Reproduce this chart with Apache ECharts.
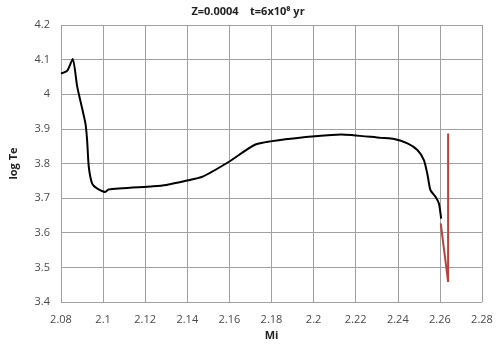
<!DOCTYPE html>
<html>
<head>
<meta charset="utf-8">
<script src="https://cdn.jsdelivr.net/npm/echarts@6/dist/echarts.min.js"></script>
<style>
  html, body { margin: 0; padding: 0; background: #fff; }
  #chart { width: 500px; height: 348px; }
</style>
</head>
<body>
<div id="chart"></div>
<script>
// black track: [Mi, log Te]
const blackMi = [2.0800, 2.0830, 2.0856, 2.0877, 2.0916, 2.0924, 2.0932, 2.0948, 2.0971, 2.1010, 2.1026,
  2.1238, 2.1300, 2.1394, 2.1473, 2.1598, 2.1724, 2.1865, 2.2007, 2.2132, 2.2320, 2.2383, 2.2446,
  2.2493, 2.2524, 2.2540, 2.2555, 2.2579, 2.2595, 2.2606];
const blackLogTe = [4.060, 4.068, 4.102, 4.022, 3.916, 3.868, 3.790, 3.742, 3.728, 3.718, 3.725,
  3.734, 3.738, 3.750, 3.762, 3.805, 3.855, 3.870, 3.879, 3.884, 3.874, 3.871, 3.858,
  3.839, 3.810, 3.771, 3.723, 3.704, 3.685, 3.641];
// red track
const redMi = [2.2604, 2.2618, 2.2639, 2.2639];
const redLogTe = [3.627, 3.559, 3.458, 3.887];

const xTicks = { min: 2.08, max: 2.28, interval: 0.02 };
const yTicks = { min: 3.4, max: 4.2, interval: 0.1 };

const zip = (xs, ys) => xs.map((x, i) => [x, ys[i]]);

const chart = echarts.init(document.getElementById('chart'));
const font = '"Open Sans", sans-serif';

chart.setOption({
  animation: false,
  title: {
    text: 'Z=0.0004    t=6x10⁸ yr',
    left: 243,
    textAlign: 'center',
    top: 1,
    textStyle: { fontSize: 11, fontWeight: 'bold', color: '#222', fontFamily: font },
  },
  grid: { left: 57, right: 18, top: 25, bottom: 46 },
  xAxis: {
    type: 'value',
    min: xTicks.min,
    max: xTicks.max,
    interval: xTicks.interval,
    name: 'Mi',
    nameLocation: 'middle',
    nameGap: 27,
    nameTextStyle: { fontSize: 11, fontWeight: 'bold', color: '#222', fontFamily: font },
    axisLine: { show: false },
    axisTick: { show: false },
    axisLabel: { fontSize: 11, color: '#4a4a4a', fontFamily: font, margin: 12 },
    splitLine: { show: true, lineStyle: { color: '#a0a0a0', width: 1 } },
  },
  yAxis: {
    type: 'value',
    min: yTicks.min,
    max: yTicks.max,
    interval: yTicks.interval,
    name: 'log Te',
    nameLocation: 'middle',
    nameGap: 42,
    nameRotate: 90,
    nameTextStyle: { fontSize: 11, fontWeight: 'bold', color: '#222', fontFamily: font },
    axisLine: { show: false },
    axisTick: { show: false },
    axisLabel: { fontSize: 11, color: '#4a4a4a', fontFamily: font, margin: 11 },
    splitLine: { show: true, lineStyle: { color: '#a0a0a0', width: 1 } },
  },
  series: [
    {
      type: 'line',
      data: zip(blackMi, blackLogTe),
      showSymbol: false,
      smooth: 0.2,
      lineStyle: { color: '#000', width: 2 },
    },
    {
      type: 'line',
      data: zip(redMi, redLogTe),
      showSymbol: false,
      lineStyle: { color: '#b9433c', width: 2 },
    },
  ],
});
</script>
</body>
</html>
